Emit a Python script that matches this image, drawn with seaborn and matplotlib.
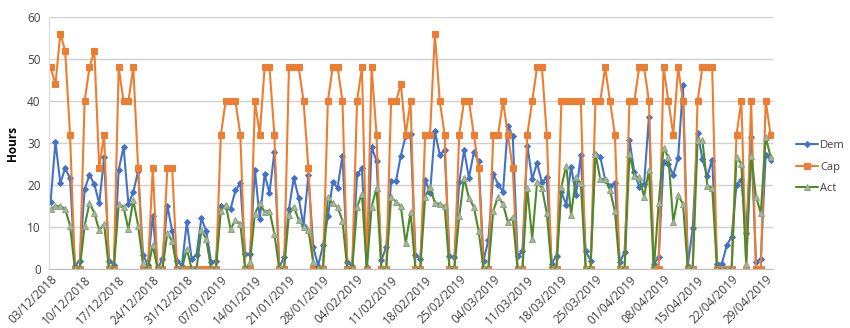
import numpy as np
import pandas as pd
import matplotlib
matplotlib.use("Agg")
import matplotlib.pyplot as plt
import seaborn as sns

start_date = "2018-12-03"
n_days = 149

dem = [16, 30.3, 20.4, 24, 21.6, 0.8, 2, 19, 22.4, 20.2,
       15.6, 26.6, 2, 1, 23.6, 29.1, 15.5, 18.3, 23.4, 3.4,
       1, 12.7, 0, 2.4, 15.1, 9, 2, 0.8, 11.1, 2.4,
       3.4, 12.1, 9, 1.6, 2, 15.1, 14.7, 14.3, 18.7, 20.4,
       3.6, 3.6, 23.6, 11.9, 22.5, 18.1, 27.8, 0.4, 2.8, 14.3,
       21.7, 16.9, 10.3, 22.4, 5.2, 0.8, 5.6, 12.5, 20.6, 19.4,
       27, 1.6, 0.8, 22.5, 24, 0.4, 29, 25.8, 2.1, 5.2,
       20.9, 20.9, 27, 31.7, 32.1, 3.4, 2.4, 21.3, 18.1, 32.8,
       27.2, 28.3, 3.2, 2.8, 20.6, 28.3, 21.7, 27.8, 25.6, 2,
       6.9, 22.6, 20.1, 18.3, 34.1, 31.7, 3, 4.2, 29.4, 21.4,
       25.2, 20.6, 21.8, 1.3, 3.2, 18.3, 15.3, 24.4, 17.5, 27.2,
       4.2, 2, 27.4, 26.7, 21.2, 19.8, 20.4, 1.6, 4, 30.7,
       23, 19.6, 20.2, 36.3, 1.2, 2.8, 25.4, 25, 22.4, 26.4,
       43.7, 0.8, 9.8, 32.5, 26.2, 22.1, 26, 1.3, 1.3, 5.6,
       7.7, 20.1, 21.2, 8.6, 31.5, 1.6, 2.4, 27.2, 26]

cap = [48, 44, 56, 52, 32, 0, 0, 40, 48, 52,
       24, 32, 0, 0, 48, 40, 40, 48, 24, 0,
       0, 24, 0, 0, 24, 24, 0, 0, 0, 0,
       0, 0, 0, 0, 0, 32, 40, 40, 40, 32,
       0, 0, 40, 32, 48, 48, 32, 0, 0, 48,
       48, 48, 40, 24, 0, 0, 0, 40, 48, 48,
       40, 0, 0, 40, 48, 0, 48, 32, 0, 0,
       40, 40, 44, 32, 40, 0, 0, 32, 32, 56,
       40, 32, 0, 0, 32, 40, 40, 32, 24, 0,
       0, 32, 32, 40, 32, 24, 0, 0, 32, 40,
       48, 48, 32, 0, 0, 40, 40, 40, 40, 40,
       0, 0, 40, 40, 48, 40, 32, 0, 0, 40,
       40, 48, 48, 40, 0, 0, 48, 40, 32, 48,
       40, 0, 0, 40, 48, 48, 48, 0, 0, 0,
       0, 32, 40, 0, 40, 0, 0, 40, 32]

act = [14.3, 15, 15, 14.3, 10.3, 0, 0, 10.3, 15.7, 13.3,
       9.2, 10.7, 0, 0, 15.4, 14.8, 9.4, 16.4, 10.3, 1.4,
       0, 5.6, 0, 0, 8.6, 6.6, 0, 0, 4.8, 0,
       0, 9.2, 7.1, 0, 0, 13.9, 15.3, 9.5, 11.6, 10.8,
       0, 1.6, 13.2, 15.6, 13.6, 13.9, 8.4, 0, 0, 12.9,
       14.8, 11.7, 10.1, 9.3, 1.6, 0, 0, 17.1, 15.6, 14.7,
       11.5, 0, 0, 14.8, 17.9, 0, 14.8, 19.3, 0, 0,
       17.1, 16, 14.9, 6.1, 13.5, 0, 0, 17.2, 19.6, 15.7,
       15.5, 14.9, 0, 0, 12.5, 21.7, 16.9, 14.8, 9, 0,
       0, 13.9, 17.2, 15.5, 11.1, 12.3, 0, 0, 19.3, 7.1,
       20.6, 19.3, 13.3, 0, 0, 19.6, 24.6, 12.9, 21.8, 20.4,
       0, 0, 27.5, 21.4, 21.4, 18.8, 13.7, 0, 0, 27.4,
       22.2, 21.8, 17.2, 23.6, 0, 15.6, 28.8, 26.6, 11.1, 17.5,
       15.5, 0, 0, 30.6, 30.6, 19.8, 19.4, 0, 0, 0,
       0, 26.6, 25, 1.2, 27, 17.2, 13.3, 31.5, 26.7]

dates = pd.date_range(start_date, periods=n_days, freq="D")
tick_dates = dates[::7]
tick_labels = [d.strftime("%d/%m/%Y") for d in tick_dates]

df = pd.DataFrame({"date": dates, "Dem": dem, "Cap": cap, "Act": act})

sns.set_style("white")
plt.rcParams["font.family"] = ["Open Sans", "DejaVu Sans"]

fig = plt.figure(figsize=(8.5, 3.28), dpi=100)
ax = fig.add_axes([0.0576, 0.180, 0.8518, 0.768])

sns.lineplot(data=df, x="date", y="Dem", ax=ax, color="#4472C4", lw=1.5,
             marker="D", markersize=3, markeredgecolor="#4472C4", label="Dem")
sns.lineplot(data=df, x="date", y="Cap", ax=ax, color="#ED7D31", lw=1.5,
             marker="s", markersize=4.5, markeredgecolor="#ED7D31", label="Cap")
sns.lineplot(data=df, x="date", y="Act", ax=ax, color="#4E8A2A", lw=1.5,
             marker="^", markersize=5, markerfacecolor="#A9B79C",
             markeredgecolor="#8FA382", label="Act")

ax.set_ylim(0, 60)
ax.set_yticks(range(0, 61, 10))
ax.set_xlim(dates[0] - pd.Timedelta(hours=8), dates[-1] + pd.Timedelta(hours=12))
ax.set_xticks(tick_dates)
ax.set_xticklabels(tick_labels, rotation=45, ha="right", rotation_mode="anchor",
                   fontsize=8.5, color="#404040")
ax.tick_params(axis="y", labelsize=8.5, labelcolor="#404040", length=0, pad=6)
ax.tick_params(axis="x", length=0, pad=3)
ax.grid(axis="y", color="#D0D0D0", lw=1)
ax.set_axisbelow(True)
for s in ["top", "right"]:
    ax.spines[s].set_visible(False)
ax.spines["left"].set_color("#D9D9D9")
ax.spines["bottom"].set_color("#BFBFBF")
ax.set_xlabel("")
ax.set_ylabel("Hours", fontsize=8.5, fontweight="bold", color="#000000", labelpad=6)

leg = ax.legend(loc="center left", bbox_to_anchor=(0.937, 0.49),
                bbox_transform=fig.transFigure, frameon=False, fontsize=8,
                handlelength=1.9, labelspacing=0.95, handletextpad=0.25,
                borderaxespad=0, borderpad=0)
for t in leg.get_texts():
    t.set_color("#404040")

fig.savefig("out.png", dpi=100)
